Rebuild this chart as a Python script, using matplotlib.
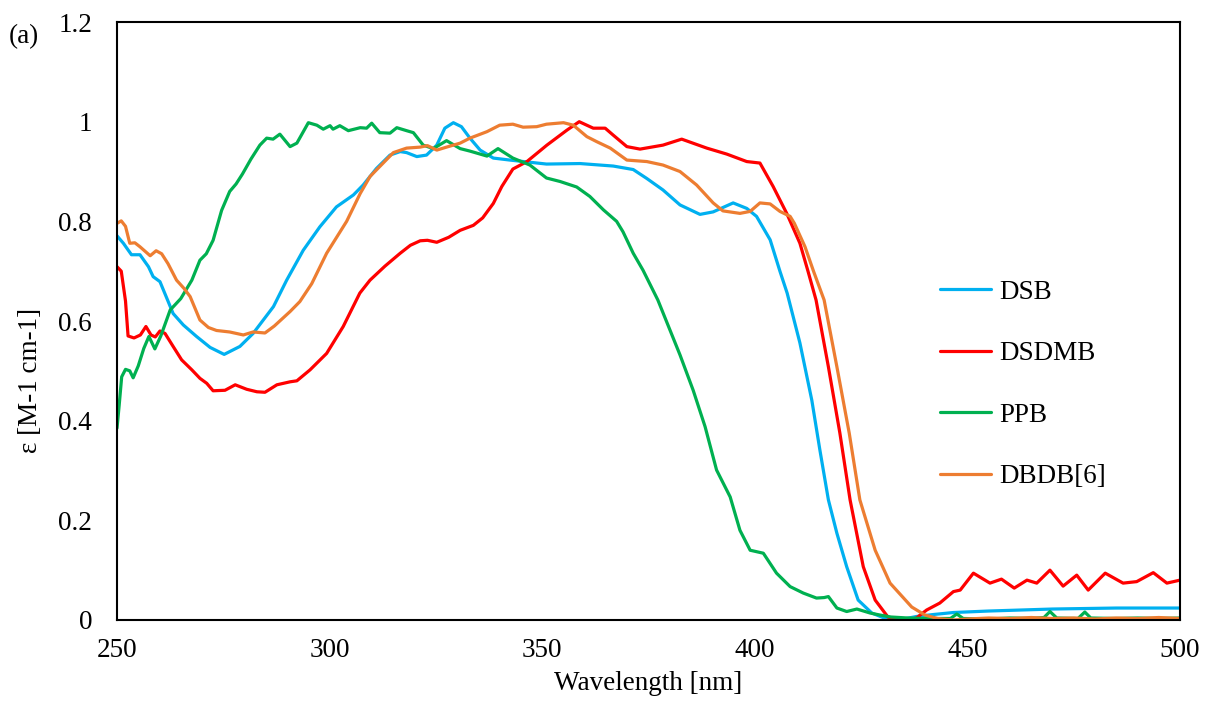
import matplotlib
matplotlib.use('Agg')
from matplotlib import pyplot as plt

plt.rcParams['font.family'] = ['Liberation Serif', 'DejaVu Serif']

# DSB
dsb_wl = [250, 251.5, 253.4, 255.4, 257.4, 258.5, 260.1, 261.7, 263.2, 265.6, 268.7, 271.9, 275.2,
          278.9, 282, 286.8, 289.9, 293.8, 297.7, 301.6, 305.6, 307.9, 311, 314.2, 316.6, 318.1,
          320.5, 322.8, 325.2, 327.1, 329.1, 331, 333, 335.4, 338.5, 342.4, 351, 358.9, 366.7,
          371.4, 374.6, 378.4, 382.4, 387.1, 390.2, 394.9, 398.1, 400.4, 403.6, 405.9, 407.6,
          410.6, 413.4, 415.3, 417.3, 419.3, 421.6, 424.3, 427.5, 431, 433, 435, 438, 442, 446.7,
          455, 470, 485, 500]
dsb_val = [0.771, 0.756, 0.733, 0.733, 0.709, 0.689, 0.679, 0.646, 0.615, 0.592, 0.569, 0.547, 0.533,
           0.549, 0.575, 0.629, 0.682, 0.742, 0.789, 0.829, 0.853, 0.873, 0.906, 0.933, 0.94, 0.938,
           0.93, 0.933, 0.953, 0.987, 0.998, 0.99, 0.967, 0.943, 0.927, 0.923, 0.915, 0.916, 0.911,
           0.904, 0.886, 0.863, 0.833, 0.814, 0.819, 0.837, 0.826, 0.81, 0.763, 0.70, 0.656,
           0.556, 0.441, 0.341, 0.241, 0.174, 0.107, 0.04, 0.014, 0.002, 0.0, 0.002, 0.007, 0.011,
           0.015, 0.018, 0.022, 0.024, 0.024]

# DSDMB
dsdmb_wl = [250, 251, 252, 252.6, 254, 255.5, 256.8, 258, 259, 260.1, 261.3, 263.2, 265.2, 267.6,
            269.5, 271.1, 272.6, 275.4, 277.8, 280.5, 282.9, 284.8, 287.6, 290.7, 292.3, 295.4,
            299.3, 303.2, 307.1, 309.5, 313, 316.6, 319, 321.3, 323, 325.2, 328, 330.7, 333.8, 336,
            338.5, 340.5, 343.1, 346.4, 351.1, 355.8, 358.7, 362, 364.8, 366.7, 369.9, 373, 378.4,
            382.8, 388.7, 393.4, 398.1, 401.2, 404.3, 407.5, 410.6, 412.5, 414.4, 417.3, 420,
            422.4, 425.5, 428.3, 431.3, 434, 436, 438, 440.4, 443.5, 446.7, 448.3, 451.4,
            455.3, 458, 461, 464, 466.3, 469.4, 472.5, 475.7, 478.4, 482.4, 486.6, 489.8, 493.7,
            496.9, 500]
dsdmb_val = [0.709, 0.70, 0.64, 0.57, 0.566, 0.572, 0.589, 0.572, 0.568, 0.58, 0.575, 0.549, 0.522,
             0.502, 0.485, 0.475, 0.46, 0.461, 0.472, 0.463, 0.458, 0.457, 0.472, 0.478, 0.48, 0.502,
             0.535, 0.589, 0.656, 0.682, 0.71, 0.736, 0.752, 0.761, 0.762, 0.758, 0.768, 0.782, 0.792,
             0.807, 0.836, 0.87, 0.905, 0.92, 0.953, 0.983, 1.0, 0.987, 0.987, 0.973, 0.95, 0.945,
             0.953, 0.965, 0.947, 0.935, 0.92, 0.917, 0.87, 0.816, 0.756, 0.70, 0.642, 0.508, 0.375,
             0.241, 0.107, 0.04, 0.006, 0.0, 0.0, 0.004, 0.02, 0.034, 0.057, 0.06,
             0.094, 0.074, 0.082, 0.064, 0.08, 0.074, 0.1, 0.068, 0.09, 0.06, 0.094, 0.074, 0.077,
             0.095, 0.074, 0.08]

# PPB
ppb_wl = [250, 250.5, 251.1, 252, 253, 253.8, 255, 256.3, 257.5, 258.9, 260.3, 262.5, 265, 267.6,
          269.5, 271, 272.6, 274.6, 276.5, 278, 279.5, 281.5, 283.6, 285.2, 286.7, 288.3, 290.7,
          292.3, 295, 297, 298.5, 300.1, 300.8, 302.4, 304.4, 307.2, 308.7, 309.9, 311.8, 314.2,
          315.8, 318.1, 319.7, 322, 324.4, 327.5, 330.7, 333, 337, 339.6, 343.1, 347.1, 351, 354.2,
          358.1, 361.2, 364.4, 367.5, 369, 371.4, 373.7, 377.2, 382.4, 385.5, 388.3, 391, 394.2,
          396.5, 398.9, 402, 405.1, 408.3, 411.4, 414.5, 416.3, 417.3, 419.3, 421.6, 424, 427.1,
          429.4, 432, 436, 440, 444, 446, 447.5, 449, 455, 460, 465, 468, 469.4, 471, 476, 477.6,
          479, 485, 490, 495, 500]
ppb_val = [0.385, 0.43, 0.488, 0.503, 0.5, 0.486, 0.51, 0.545, 0.569, 0.544, 0.57, 0.622, 0.645,
           0.682, 0.722, 0.735, 0.762, 0.822, 0.86, 0.875, 0.895, 0.925, 0.953, 0.967, 0.965, 0.975,
           0.95, 0.957, 0.998, 0.993, 0.985, 0.992, 0.985, 0.992, 0.982, 0.988, 0.987, 0.997, 0.978,
           0.977, 0.988, 0.982, 0.978, 0.953, 0.946, 0.962, 0.946, 0.941, 0.931, 0.946, 0.927, 0.913,
           0.887, 0.88, 0.869, 0.85, 0.823, 0.8, 0.779, 0.736, 0.702, 0.642, 0.532, 0.461, 0.388,
           0.301, 0.247, 0.18, 0.14, 0.134, 0.094, 0.067, 0.054, 0.044, 0.045, 0.047, 0.024, 0.017,
           0.022, 0.014, 0.01, 0.006, 0.004, 0.003, 0.003, 0.003, 0.012, 0.003, 0.002, 0.004, 0.003,
           0.005, 0.017, 0.004, 0.003, 0.016, 0.004, 0.003, 0.004, 0.003, 0.004]

# DBDB[6]
dbdb_wl = [250, 251, 252, 253, 254.2, 255.4, 257.8, 259.2, 260.5, 262, 264, 265.8, 267.2, 269.5,
           271.5, 273.4, 276.5, 279.7, 282, 284.8, 287, 290.7, 293, 295.8, 299.3, 304, 307.2, 309.5,
           311.9, 315, 318.1, 321.3, 323, 325.2, 327.5, 330.7, 333, 337, 340, 343.1, 345.5, 348.7,
           351, 355, 357.3, 360.5, 362.8, 366, 369.9, 374.6, 378.4, 382.4, 386.3, 390.2, 392.5,
           396.5, 398.9, 401.2, 403.6, 405.9, 408.3, 409.3, 411.8, 413.8, 416.3, 419.3, 422.2, 424.7,
           428.3, 431.8, 436.9, 440, 443, 446.7, 450, 455, 460, 465, 470, 475, 480, 485, 490,
           495, 500]
dbdb_val = [0.796, 0.801, 0.79, 0.756, 0.757, 0.749, 0.731, 0.741, 0.735, 0.715, 0.682, 0.665, 0.649,
            0.602, 0.587, 0.581, 0.578, 0.572, 0.578, 0.576, 0.59, 0.619, 0.639, 0.675, 0.736, 0.8,
            0.856, 0.89, 0.911, 0.938, 0.947, 0.949, 0.952, 0.943, 0.949, 0.957, 0.967, 0.98, 0.993,
            0.995, 0.989, 0.99, 0.995, 0.998, 0.993, 0.97, 0.96, 0.947, 0.923, 0.92, 0.913, 0.9,
            0.873, 0.837, 0.821, 0.816, 0.82, 0.837, 0.835, 0.82, 0.81, 0.796, 0.749, 0.70, 0.642,
            0.508, 0.375, 0.241, 0.14, 0.074, 0.026, 0.01, 0.003, 0.0, 0.002, 0.004, 0.003,
            0.005, 0.003, 0.004, 0.002, 0.004, 0.003, 0.005, 0.003]

ytick_vals = [0, 0.2, 0.4, 0.6, 0.8, 1.0, 1.2]
ytick_labels = ['0', '0.2', '0.4', '0.6', '0.8', '1', '1.2']
xtick_vals = [250, 300, 350, 400, 450, 500]

FS = 19.5

fig = plt.figure(figsize=(12.05, 7.11), dpi=100)
ax = fig.add_axes([0.0971, 0.128, 0.8822, 0.841])

lw = 2.3
style = dict(lw=lw, solid_joinstyle='round', solid_capstyle='round')
ax.plot(dsb_wl, dsb_val, color='#00B0F0', label='DSB', **style)
ax.plot(dsdmb_wl, dsdmb_val, color='#FF0000', label='DSDMB', **style)
ax.plot(ppb_wl, ppb_val, color='#00B050', label='PPB', **style)
ax.plot(dbdb_wl, dbdb_val, color='#ED7D31', label='DBDB[6]', **style)

ax.set_xlim(250, 500)
ax.set_ylim(0, 1.2)
ax.set_xticks(xtick_vals)
ax.set_yticks(ytick_vals)
ax.set_yticklabels(ytick_labels)
ax.tick_params(axis='both', length=0, labelsize=FS)
ax.tick_params(axis='x', pad=13)
ax.tick_params(axis='y', pad=18)
for sp in ax.spines.values():
    sp.set_linewidth(1.5)
    sp.set_color('black')

ax.set_xlabel('Wavelength [nm]', fontsize=FS)
ax.xaxis.set_label_coords(0.5, -0.085)
ax.set_ylabel('ε [M-1 cm-1]', fontsize=FS)
ax.yaxis.set_label_coords(-0.070, 0.401)

ax.legend(loc='center left', bbox_to_anchor=(0.774, 0.394), frameon=False, fontsize=FS,
          handlelength=1.9, handletextpad=0.3, labelspacing=1.35, borderpad=0, borderaxespad=0)

fig.text(0.007, 0.949, '(a)', fontsize=FS, va='center', ha='left')

plt.savefig('out.png', dpi=100)
plt.close()
